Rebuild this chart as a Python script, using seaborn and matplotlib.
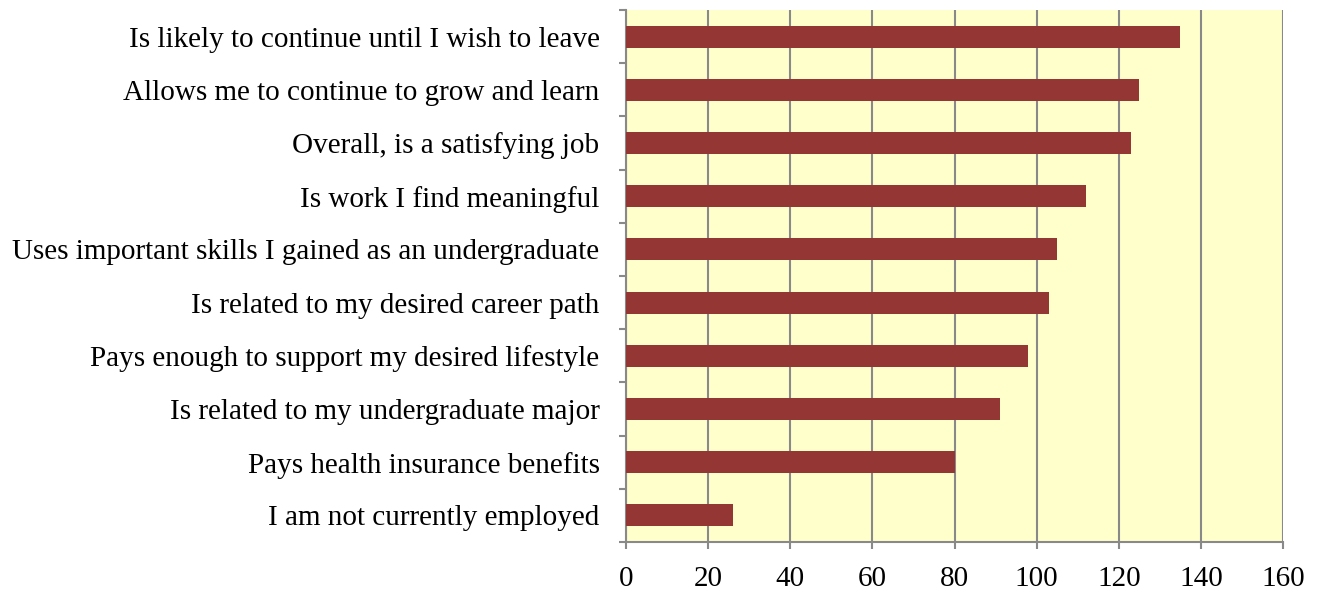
import matplotlib
matplotlib.use("Agg")
import matplotlib.pyplot as plt
import seaborn as sns
import numpy as np
import pandas as pd

categories = [
    "Is likely to continue until I wish to leave",
    "Allows me to continue to grow and learn",
    "Overall, is a satisfying job",
    "Is work I find meaningful",
    "Uses important skills I gained as an undergraduate",
    "Is related to my desired career path",
    "Pays enough to support my desired lifestyle",
    "Is related to my undergraduate major",
    "Pays health insurance benefits",
    "I am not currently employed",
]
values = [135, 125, 123, 112, 105, 103, 98, 91, 80, 26]
x_ticks = [0, 20, 40, 60, 80, 100, 120, 140, 160]

sns.set_theme(style="white")
plt.rcParams['font.family'] = ['Liberation Serif', 'DejaVu Serif']

df = pd.DataFrame({"cat": categories, "val": values})

fig = plt.figure(figsize=(13.19, 5.93), dpi=100)
ax = fig.add_axes([626/1319, 1 - 542/593, (1283 - 626)/1319, (542 - 10)/593])
ax.set_facecolor("#FFFFCC")

sns.barplot(data=df, x="val", y="cat", orient="h", color="#943634",
            width=0.41, saturation=1, linewidth=0, ax=ax, zorder=3)

ax.set_xlim(0, 160)
ax.set_ylim(len(categories) - 0.5, -0.5)
ax.set_xticks(x_ticks)
ax.set_xticklabels([str(t) for t in x_ticks])
ax.grid(axis="x", color="#898989", linewidth=1.5, zorder=1)
ax.set_axisbelow(True)

ax.set_yticks(range(len(categories)))
ax.set_yticklabels(categories)
ax.set_yticks(np.arange(-0.5, len(categories), 1), minor=True)
ax.tick_params(axis="both", which="both", left=True, bottom=True)
ax.tick_params(axis="y", which="major", length=0, pad=19, labelsize=21, labelcolor="black")
ax.tick_params(axis="y", which="minor", length=5, width=1.5, color="#898989", direction="out")
ax.tick_params(axis="x", which="major", length=5, width=1.5, color="#898989", direction="out",
               labelsize=21, pad=12, labelcolor="black")
ax.set_xlabel("")
ax.set_ylabel("")

for s in ["top", "right"]:
    ax.spines[s].set_visible(False)
for s in ["left", "bottom"]:
    ax.spines[s].set_color("#898989")
    ax.spines[s].set_linewidth(1.5)

fig.savefig("out.png", dpi=100)
